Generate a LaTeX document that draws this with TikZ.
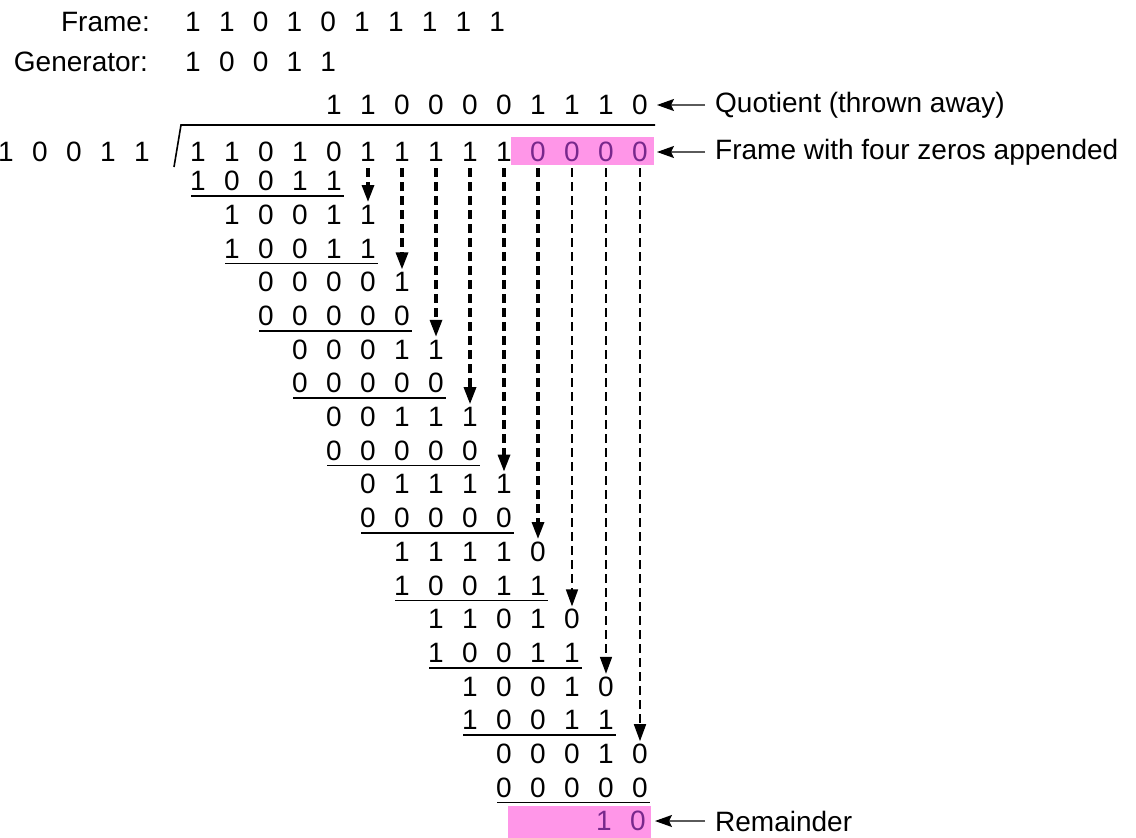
\documentclass[tikz,border=0pt]{standalone}
\usepackage{fontspec}
\setmainfont{Liberation Sans}
\usetikzlibrary{arrows.meta}
\definecolor{boxpink}{RGB}{255,150,232}
\definecolor{digpurple}{RGB}{120,40,140}
\definecolor{shaftgray}{RGB}{90,90,90}
\begin{document}
\begin{tikzpicture}[x=1pt,y=-1pt,
  dig/.style={inner sep=0pt,font=\fontsize{28}{32}\selectfont},
  lbl/.style={inner sep=0pt,font=\fontsize{28}{32}\selectfont},
  uline/.style={line width=1.6pt},
  dropdash/.style={line width=3.2pt,dash pattern=on 9pt off 5pt,-{Triangle[length=17pt,width=12pt]}},
  thindash/.style={line width=1.7pt,dash pattern=on 9pt off 5pt,-{Triangle[length=17pt,width=12pt]}},
  labarrow/.style={line width=1.8pt,shaftgray,-{Stealth[length=17pt,width=12pt,inset=3pt,black]}},
  pinkbox/.style={fill=boxpink,draw=none}]
\useasboundingbox (0,0) rectangle (1136,838);
% pink boxes
\fill[pinkbox] (511,137) rectangle (654,165);
\fill[pinkbox] (508,806) rectangle (651,838);
% top labels
\node[lbl,anchor=east] (framelbl) at (150,22) {Frame:};
\node[lbl,anchor=east] (genlbl) at (148,62) {Generator:};
\foreach \d [count=\k from 0] in {1,1,0,1,0,1,1,1,1,1}
  \node[dig] (f\k) at (193+33.8*\k,22) {\d};
\foreach \d [count=\k from 0] in {1,0,0,1,1}
  \node[dig] (g\k) at (193+33.8*\k,62) {\d};
% quotient
\foreach \d [count=\k from 4] in {1,1,0,0,0,0,1,1,1,0}
  \node[dig] (q\k) at (198+34*\k,105) {\d};
% divisor
\foreach \d [count=\k from 0] in {1,0,0,1,1}
  \node[dig] (v\k) at (6+34*\k,152) {\d};
% dividend
\foreach \d [count=\k from 0] in {1,1,0,1,0,1,1,1,1,1}
  \node[dig] (n\k) at (198+34*\k,152) {\d};
\foreach \d [count=\k from 10] in {0,0,0,0}
  \node[dig,text=digpurple] (n\k) at (198+34*\k,152) {\d};
% division bracket
\coordinate (slb) at (174,167);
\coordinate (slt) at (181,125);
\coordinate (bre) at (655,125);
\draw[line width=1.6pt] (slb) -- (slt) -- (bre);
% subtraction rows
\foreach \r/\s/\ds in {0/0/{1,0,0,1,1},1/1/{1,0,0,1,1},2/1/{1,0,0,1,1},
  3/2/{0,0,0,0,1},4/2/{0,0,0,0,0},5/3/{0,0,0,1,1},6/3/{0,0,0,0,0},
  7/4/{0,0,1,1,1},8/4/{0,0,0,0,0},9/5/{0,1,1,1,1},10/5/{0,0,0,0,0},
  11/6/{1,1,1,1,0},12/6/{1,0,0,1,1},13/7/{1,1,0,1,0},14/7/{1,0,0,1,1},
  15/8/{1,0,0,1,0},16/8/{1,0,0,1,1},17/9/{0,0,0,1,0},18/9/{0,0,0,0,0}}{
  \foreach \d [count=\k from 0] in \ds
    \node[dig] (r\r-\k) at (198+34*\s+34*\k,181+33.7*\r) {\d};
}
% underlines
\foreach \r/\s in {0/0,2/1,4/2,6/3,8/4,10/5,12/6,14/7,16/8,18/9}{
  \coordinate (ua\r) at (198+34*\s-7,196+33.7*\r);
  \coordinate (ub\r) at (198+34*\s+136+10,196+33.7*\r);
  \draw[uline] (ua\r) -- (ub\r);
}
% remainder
\node[dig,text=digpurple] (rem0) at (604,821) {1};
\node[dig,text=digpurple] (rem1) at (638,821) {0};
% drop arrows
\foreach \c in {5,...,10}{
  \coordinate (ds\c) at (198+34*\c,168);
  \coordinate (de\c) at (198+34*\c,202+67.4*\c-337);
  \draw[dropdash] (ds\c) -- (de\c);
}
\foreach \c in {11,12,13}{
  \coordinate (ds\c) at (198+34*\c,168);
  \coordinate (de\c) at (198+34*\c,202+67.4*\c-337);
  \draw[thindash] (ds\c) -- (de\c);
}
% side labels
\node[lbl,anchor=west] (qlab) at (715,105) {Quotient (thrown away)};
\node[lbl,anchor=west] (flab) at (715,152) {Frame with four zeros appended};
\node[lbl,anchor=west] (rlab) at (715,821) {Remainder};
\coordinate (qa) at (705,105);
\coordinate (fa) at (705,152);
\coordinate (ra) at (705,821);
\draw[labarrow] (qa) -- ([xshift=9pt]q13.east);
\draw[labarrow] (fa) -- ([xshift=9pt]n13.east);
\draw[labarrow] (ra) -- ([xshift=9pt]rem1.east);
\end{tikzpicture}
\end{document}
